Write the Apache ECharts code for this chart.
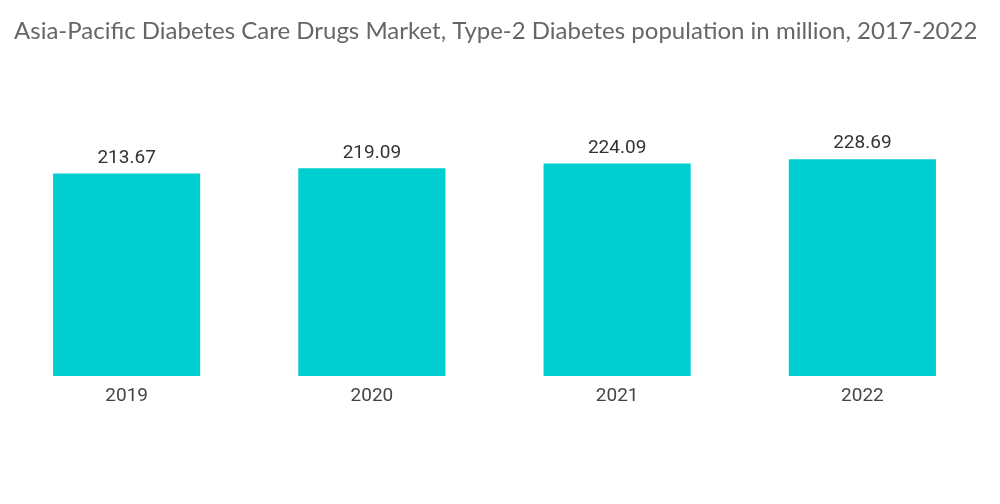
<!DOCTYPE html>
<html><head><meta charset="utf-8">
<script src="https://cdn.jsdelivr.net/npm/echarts@6/dist/echarts.min.js"></script>
<style>html,body{margin:0;padding:0;background:#fff}#c{width:1000px;height:504px}</style>
</head><body><div id="c"></div>
<script>
const categories = ['2019', '2020', '2021', '2022'];
const values = [213.67, 219.09, 224.09, 228.69];
const chart = echarts.init(document.getElementById('c'), null, {renderer: 'canvas'});
chart.setOption({
  animation: false,
  title: {
    text: 'Asia-Pacific Diabetes Care Drugs Market, Type-2 Diabetes population in million, 2017-2022',
    left: 9, top: 14,
    textStyle: {fontFamily: 'Lato', fontWeight: 'normal', fontSize: 24, color: '#666666'}
  },
  grid: {left: 4, right: 15, top: 139, bottom: 128},
  xAxis: {
    type: 'category', data: categories,
    axisLine: {show: false}, axisTick: {show: false},
    axisLabel: {fontFamily: 'Roboto', fontSize: 19, color: '#444444', margin: 11}
  },
  yAxis: {type: 'value', min: 0, max: 250, show: false, splitLine: {show: false}},
  series: [{
    type: 'bar', data: values, barWidth: '60%',
    itemStyle: {color: '#00CED1'},
    label: {show: true, position: 'top', distance: 6, fontFamily: 'Roboto', fontSize: 19, color: '#333333'}
  }]
});
</script></body></html>
